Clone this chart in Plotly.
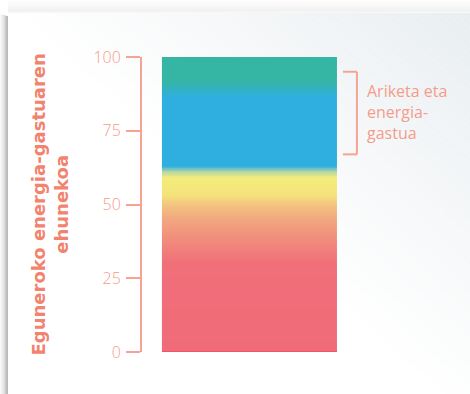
import numpy as np
import plotly.graph_objects as go

# ---- data ----
category = ["Eguneroko energia-gastua"]
gradient_levels = [0, 30, 37, 45, 50, 53, 59, 61, 63, 86, 92, 100]
gradient_colors = ["#F06B78", "#F06F79", "#F1887C", "#F2A780", "#F3C57F", "#F4E27B",
                   "#F4EC7B", "#B9D7A2", "#2EAFE0", "#2EAFE0", "#35B5A4", "#35B5A4"]
y_ticks = [0, 25, 50, 75, 100]
exercise_range = [67, 95]
exercise_label = "Ariketa eta<br>energia-<br>gastua"
y_title = "Eguneroko energia-gastuaren<br>ehunekoa"

W, H = 470, 394
ML, MR, MT, MB = 142, 0, 57, 42
PW, PH = W - ML - MR, H - MT - MB

def px(x):
    return (x - ML) / PW

def py(y):
    return (H - MB - y) / PH

SALMON = "#F5A494"
SALMON_TXT = "#F59C8B"
TITLE_C = "#F2836F"

# fine cells for the gradient bar
step = 0.25
y_cells = np.arange(step / 2, 100, step)
z = [[v] for v in y_cells]
colorscale = [[l / 100, c] for l, c in zip(gradient_levels, gradient_colors)]

fig = go.Figure()
fig.add_trace(go.Heatmap(
    x=category, y=y_cells, z=z, zmin=0, zmax=100,
    colorscale=colorscale, showscale=False, hoverinfo="skip",
))

shapes = []
# card
shapes.append(dict(type="rect", xref="paper", yref="paper", layer="below",
                   x0=px(9), x1=px(W), y0=py(H), y1=py(13),
                   fillcolor="#FFFFFF", line_width=0))
# diagonal light background gradient from the top-right corner (solid bands)
def bg_col(a):
    c0, c1 = np.array([233, 238, 241]), np.array([246, 248, 249])
    if a <= 260:
        c = c0 + (c1 - c0) * a / 260
    else:
        c = c1 + (np.array([255, 255, 255]) - c1) * min(1, (a - 260) / 200)
    return "rgb(%d,%d,%d)" % tuple(np.round(c))

band = 8
for a in range(0, 456, band):
    a1, a2 = a, a + band
    path = (f"M {px(W - a1)} {py(13)} L {px(W - a2)} {py(13)} "
            f"L {px(W)} {py(13 + a2 * 0.9)} L {px(W)} {py(13 + a1 * 0.9)} Z")
    shapes.append(dict(type="path", xref="paper", yref="paper", layer="below",
                       path=path, fillcolor=bg_col(a + band / 2), line_width=0))

# outer shadow (left and top)
for i, op in enumerate([0.04, 0.07, 0.10, 0.15, 0.22, 0.30, 0.38, 0.42]):
    shapes.append(dict(type="rect", xref="paper", yref="paper", layer="below",
                       x0=px(i), x1=px(i + 1), y0=py(H), y1=py(14 + i * 0.3),
                       fillcolor=f"rgba(90,90,90,{op})", line_width=0))
for i, op in enumerate([0.015, 0.02, 0.03, 0.035, 0.04, 0.05, 0.06, 0.07, 0.08, 0.09, 0.10, 0.08, 0.05]):
    shapes.append(dict(type="rect", xref="paper", yref="paper", layer="below",
                       x0=px(8), x1=px(W), y0=py(i + 1), y1=py(i),
                       fillcolor=f"rgba(120,120,120,{op})", line_width=0))

# bracket for exercise range
bx0, bx1 = 0.534, 0.614
for yv in exercise_range:
    shapes.append(dict(type="line", xref="x", yref="y", x0=bx0, x1=bx1, y0=yv, y1=yv,
                       line=dict(color=SALMON, width=2)))
shapes.append(dict(type="line", xref="x", yref="y", x0=bx1, x1=bx1,
                   y0=exercise_range[0], y1=exercise_range[1],
                   line=dict(color=SALMON, width=2)))
# bottom edge of bar
shapes.append(dict(type="line", xref="x", yref="y", x0=-0.5, x1=0.5, y0=0.15, y1=0.15,
                   line=dict(color="#EC5666", width=1)))

annotations = [
    dict(x=0.658, y=sum(exercise_range) / 2 + 0.5, xref="x", yref="y", text=exercise_label,
         showarrow=False, xanchor="left", yanchor="middle", align="left",
         font=dict(family="Open Sans", size=16, color=SALMON_TXT)),
    dict(x=px(49), y=0.5, xref="paper", yref="paper", text=y_title, textangle=-90,
         showarrow=False, xanchor="center", yanchor="middle", align="center",
         font=dict(family="DejaVu Sans", size=18, color=TITLE_C, weight="bold")),
]

fig.update_layout(
    width=W, height=H,
    margin=dict(l=ML, r=MR, t=MT, b=MB),
    paper_bgcolor="#FFFFFF", plot_bgcolor="rgba(0,0,0,0)",
    shapes=shapes, annotations=annotations, showlegend=False,
)
fig.update_xaxes(range=[-0.614, 1.26], visible=False, fixedrange=True)
fig.update_yaxes(range=[0, 100], tickvals=y_ticks, ticks="outside", ticklen=14,
                 tickwidth=2, tickcolor=SALMON, showline=True, linecolor=SALMON,
                 linewidth=2, showgrid=False, zeroline=False,
                 ticklabelstandoff=2,
                 tickfont=dict(family="Open Sans", size=16, color=SALMON_TXT, weight=300))

fig.write_html("out.html")
